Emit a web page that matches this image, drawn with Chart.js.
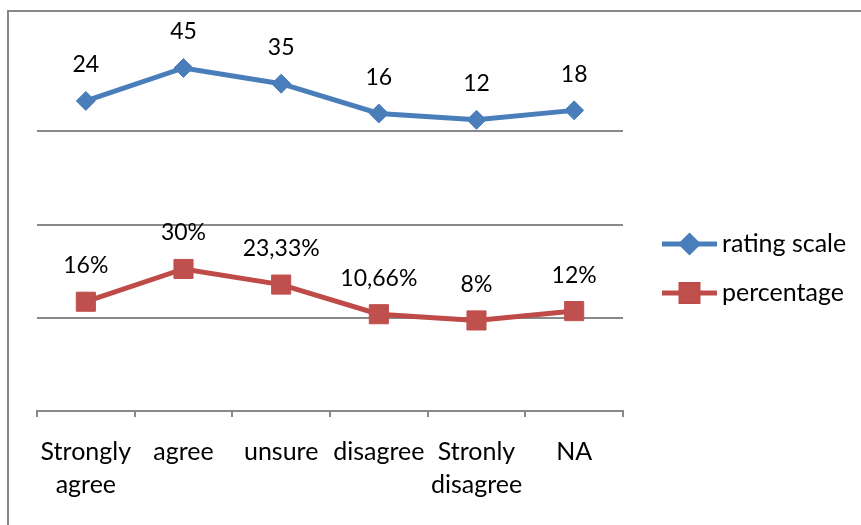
<!DOCTYPE html>
<html>
<head>
<meta charset="utf-8">
<style>
  html, body { margin: 0; padding: 0; background: #ffffff; }
  #wrap { width: 861px; height: 525px; }
</style>
<script src="https://cdn.jsdelivr.net/npm/chart.js@4/dist/chart.umd.min.js"></script>
</head>
<body>
<div id="wrap"><canvas id="c" width="861" height="525"></canvas></div>
<script>
// Survey answers and the two series shown for each answer
const categories = [["Strongly", "agree"], "agree", "unsure", "disagree", ["Stronly", "disagree"], "NA"];
const ratingScale = [24, 45, 35, 16, 12, 18];
const percentage = [16, 30, 23.33, 10.66, 8, 12];
const seriesNames = ["rating scale", "percentage"];
const gridSteps = [1, 2, 3];

const BLUE = "#4A7EBB";
const RED = "#BE4B48";
const GRID = "#898989";

Chart.defaults.font.family = "Lato, 'Open Sans', sans-serif";
Chart.defaults.color = "#000000";

function fmtPercent(v) {
  return String(v).replace(".", ",") + "%";
}

// Outer frame of the chart object (top and left edges)
const framePlugin = {
  id: "frame",
  beforeDraw(chart) {
    const ctx = chart.ctx;
    ctx.save();
    ctx.strokeStyle = "#878787";
    ctx.lineWidth = 2;
    ctx.beginPath();
    ctx.moveTo(8, 525);
    ctx.lineTo(8, 11);
    ctx.lineTo(861, 11);
    ctx.stroke();
    ctx.restore();
  }
};

// Value labels above every point
const valueLabels = {
  id: "valueLabels",
  afterDatasetsDraw(chart) {
    const ctx = chart.ctx;
    ctx.save();
    ctx.font = "23px Lato, 'Open Sans', sans-serif";
    ctx.fillStyle = "#000000";
    ctx.textAlign = "center";
    ctx.textBaseline = "middle";
    chart.data.datasets.forEach((ds, di) => {
      const meta = chart.getDatasetMeta(di);
      meta.data.forEach((pt, i) => {
        const v = ds.data[i];
        const txt = ds.isPercent ? fmtPercent(v) : String(v);
        ctx.fillText(txt, pt.x, pt.y - 36);
      });
    });
    ctx.restore();
  }
};

// Legend on the right: line with marker, followed by the series name
const lineLegend = {
  id: "lineLegend",
  afterDraw(chart) {
    const ctx = chart.ctx;
    const rows = [244, 293];
    ctx.save();
    chart.data.datasets.forEach((ds, di) => {
      const y = rows[di];
      ctx.strokeStyle = ds.borderColor;
      ctx.lineWidth = 5;
      ctx.beginPath();
      ctx.moveTo(662, y);
      ctx.lineTo(717, y);
      ctx.stroke();
      Chart.helpers.drawPoint(ctx, {
        pointStyle: ds.pointStyle,
        radius: di === 0 ? 8 : 12,
        borderWidth: 1,
        rotation: 0
      }, 689.5, y);
      ctx.fillStyle = ds.pointBackgroundColor;
      ctx.strokeStyle = ds.pointBorderColor;
      ctx.lineWidth = 1;
      ctx.fill();
      ctx.stroke();
      ctx.fillStyle = "#000000";
      ctx.font = "25px Lato, 'Open Sans', sans-serif";
      ctx.textAlign = "left";
      ctx.textBaseline = "middle";
      ctx.fillText(ds.label, 722, y);
    });
    ctx.restore();
  }
};

new Chart(document.getElementById("c"), {
  type: "line",
  data: {
    labels: categories,
    datasets: [
      {
        label: seriesNames[0],
        data: ratingScale,
        yAxisID: "yRating",
        borderColor: BLUE,
        borderWidth: 5,
        pointStyle: "rectRot",
        pointRadius: 9.5,
        pointBackgroundColor: BLUE,
        pointBorderColor: BLUE,
        pointBorderWidth: 1,
        tension: 0,
        clip: false
      },
      {
        label: seriesNames[1],
        data: percentage,
        isPercent: true,
        yAxisID: "yPercent",
        borderColor: RED,
        borderWidth: 5,
        pointStyle: "rect",
        pointRadius: 13.5,
        pointBackgroundColor: "#C0504D",
        pointBorderColor: "#C0504D",
        pointBorderWidth: 1,
        tension: 0,
        clip: false
      }
    ]
  },
  options: {
    responsive: false,
    animation: false,
    layout: { padding: { left: 37, right: 238, top: 38, bottom: 0 } },
    plugins: {
      legend: { display: false },
      tooltip: { enabled: false }
    },
    scales: {
      x: {
        offset: true,
        grid: {
          offset: true,
          drawOnChartArea: false,
          drawTicks: true,
          tickLength: 6,
          color: GRID,
          lineWidth: 2
        },
        border: { display: true, color: GRID, width: 2 },
        ticks: {
          font: { size: 25, lineHeight: 1.32 },
          color: "#000000",
          padding: 18,
          maxRotation: 0,
          autoSkip: false
        },
        afterFit(scale) { scale.height = 114; }
      },
      y: {
        position: "left",
        min: 0,
        max: 4,
        afterBuildTicks(scale) {
          scale.ticks = [0, ...gridSteps, 4].map(v => ({ value: v }));
        },
        grid: {
          drawTicks: false,
          lineWidth: 2,
          color: (c) => gridSteps.includes(c.tick && c.tick.value) ? GRID : "rgba(0,0,0,0)"
        },
        border: { display: false },
        ticks: { display: false },
        afterFit(scale) { scale.width = 0; }
      },
      yRating: {
        display: false,
        min: -173.5,
        max: 64.1
      },
      yPercent: {
        display: false,
        min: -30.7,
        max: 128.7
      }
    }
  },
  plugins: [framePlugin, valueLabels, lineLegend]
});
</script>
</body>
</html>
